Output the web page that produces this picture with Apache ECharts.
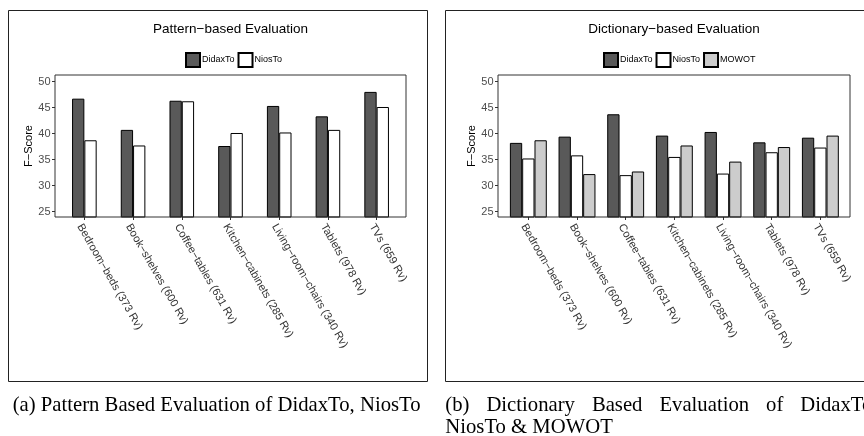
<!DOCTYPE html>
<html>
<head>
<meta charset="utf-8">
<script src="https://cdn.jsdelivr.net/npm/echarts@6/dist/echarts.min.js"></script>
<style>
  html, body { margin: 0; padding: 0; background: #fff; }
  #chart { width: 864px; height: 436px; }
</style>
</head>
<body>
<div id="chart"></div>
<script>
// Product categories (review counts in brackets)
const categories = [
  'Bedroom\u2212beds (373 Rv)',
  'Book\u2212shelves (600 Rv)',
  'Coffee\u2212tables (631 Rv)',
  'Kitchen\u2212cabinets (285 Rv)',
  'Living\u2212room\u2212chairs (340 Rv)',
  'Tablets (978 Rv)',
  'TVs (659 Rv)'
];

// Pattern-based evaluation (F-Score)
const patternDidaxTo = [46.7, 40.7, 46.3, 37.6, 45.3, 43.3, 48.0];
const patternNiosTo  = [38.7, 37.7, 46.2, 40.1, 40.2, 40.7, 45.1];

// Dictionary-based evaluation (F-Score)
const dictDidaxTo = [38.2, 39.4, 43.7, 39.6, 40.3, 38.3, 39.2];
const dictNiosTo  = [35.2, 35.8, 32.0, 35.5, 32.3, 36.4, 37.3];
const dictMOWOT   = [38.7, 32.2, 32.7, 37.7, 34.6, 37.4, 39.6];

// Y-axis tick labels and range
const yTicks = [25, 30, 35, 40, 45, 50];
const yMin = 23.95;
const yMax = 51.25;

// Figure captions
const captionA = '(a) Pattern Based Evaluation of DidaxTo, NiosTo';
const captionBLine1 = ['(b)', 'Dictionary', 'Based', 'Evaluation', 'of', 'DidaxTo,'];
const captionBLine2 = 'NiosTo & MOWOT';

const COLORS = { DidaxTo: '#595959', NiosTo: '#ffffff', MOWOT: '#cccccc' };
const SANS = 'Liberation Sans, Arial, Helvetica, sans-serif';
const SERIF = 'Liberation Serif, Times New Roman, serif';
const CAPTION_FONT = '20.7px ' + SERIF;

const chart = echarts.init(document.getElementById('chart'), null, { renderer: 'canvas' });

function frameY(gridIndex) {
  return {
    gridIndex, type: 'value', min: yMin, max: yMax,
    name: 'F\u2212Score', nameLocation: 'middle', nameRotate: 90, nameGap: 19,
    nameTextStyle: { fontFamily: SANS, fontSize: 11, color: '#000' },
    axisLine: { show: false },
    axisTick: { show: true, length: 3, customValues: yTicks, lineStyle: { color: '#333' } },
    axisLabel: { customValues: yTicks, margin: 4.5, fontFamily: SANS, fontSize: 11, color: '#4d4d4d' },
    splitLine: { show: false }
  };
}
function barY(gridIndex) {
  return { gridIndex, type: 'value', min: yMin, max: yMax, show: false, splitLine: { show: false } };
}
function barX(gridIndex) {
  return {
    gridIndex, type: 'category', data: categories,
    axisLine: { show: false },
    axisTick: { show: true, alignWithLabel: true, length: 3, lineStyle: { color: '#333' } },
    axisLabel: {
      rotate: -60, interval: 0, margin: 5, verticalAlign: 'top',
      fontFamily: SANS, fontSize: 11, color: '#333'
    },
    splitLine: { show: false }
  };
}
function bars(name, data, xi) {
  return {
    name, type: 'bar', data, xAxisIndex: xi, yAxisIndex: xi,
    barWidth: 12.3, barGap: '0%',
    itemStyle: { color: COLORS[name], borderColor: '#000', borderWidth: 1 },
    emphasis: { disabled: true },
    animation: false
  };
}

const legendCommon = {
  icon: 'rect', itemWidth: 14, itemHeight: 14, itemGap: 3, top: 52, padding: 0,
  textStyle: { fontFamily: SANS, fontSize: 9, color: '#000', padding: [0, 0, 0, -3] },
  selectedMode: false
};

// Justified first line of caption (b): words separated by an equal gap
const measureCtx = document.createElement('canvas').getContext('2d');
measureCtx.font = CAPTION_FONT;
const wordGap = 17;
const captionBWords = [];
let cx = 445.3;
captionBLine1.forEach(w => {
  captionBWords.push({ type: 'text', x: cx, y: 395, style: { text: w, font: CAPTION_FONT, fill: '#000' } });
  cx += measureCtx.measureText(w).width + wordGap;
});

chart.setOption({
  animation: false,
  title: [
    { text: 'Pattern\u2212based Evaluation', left: 230.5, top: 22, padding: 0, textAlign: 'center',
      textStyle: { fontFamily: SANS, fontSize: 13.5, fontWeight: 'normal', color: '#000' } },
    { text: 'Dictionary\u2212based Evaluation', left: 674, top: 22, padding: 0, textAlign: 'center',
      textStyle: { fontFamily: SANS, fontSize: 13.5, fontWeight: 'normal', color: '#000' } }
  ],
  legend: [
    Object.assign({ left: 185, data: ['DidaxTo', 'NiosTo'] }, legendCommon),
    Object.assign({ left: 603, data: ['DidaxTo', 'NiosTo', 'MOWOT'] }, legendCommon)
  ],
  grid: [
    // framed plot panels
    { left: 55, top: 75, width: 351, height: 142, show: true, borderColor: '#333', borderWidth: 1, backgroundColor: 'transparent', z: 5 },
    { left: 60, top: 75, width: 341, height: 142 },
    { left: 498, top: 75, width: 352, height: 142, show: true, borderColor: '#333', borderWidth: 1, backgroundColor: 'transparent', z: 5 },
    { left: 504, top: 75, width: 340.7, height: 142 }
  ],
  xAxis: [
    { gridIndex: 0, type: 'value', show: false },
    barX(1),
    { gridIndex: 2, type: 'value', show: false },
    barX(3)
  ],
  yAxis: [frameY(0), barY(1), frameY(2), barY(3)],
  series: [
    bars('DidaxTo', patternDidaxTo, 1),
    bars('NiosTo', patternNiosTo, 1),
    bars('DidaxTo', dictDidaxTo, 3),
    bars('NiosTo', dictNiosTo, 3),
    bars('MOWOT', dictMOWOT, 3)
  ],
  graphic: [
    { type: 'rect', shape: { x: 8.5, y: 10.5, width: 419, height: 371 },
      style: { fill: 'none', stroke: '#222', lineWidth: 1 }, silent: true },
    { type: 'rect', shape: { x: 445.5, y: 10.5, width: 440, height: 371 },
      style: { fill: 'none', stroke: '#222', lineWidth: 1 }, silent: true },
    { type: 'text', x: 12.7, y: 395, style: { text: captionA, font: CAPTION_FONT, fill: '#000' } },
    ...captionBWords,
    { type: 'text', x: 445.3, y: 417, style: { text: captionBLine2, font: CAPTION_FONT, fill: '#000' } }
  ]
});
</script>
</body>
</html>
